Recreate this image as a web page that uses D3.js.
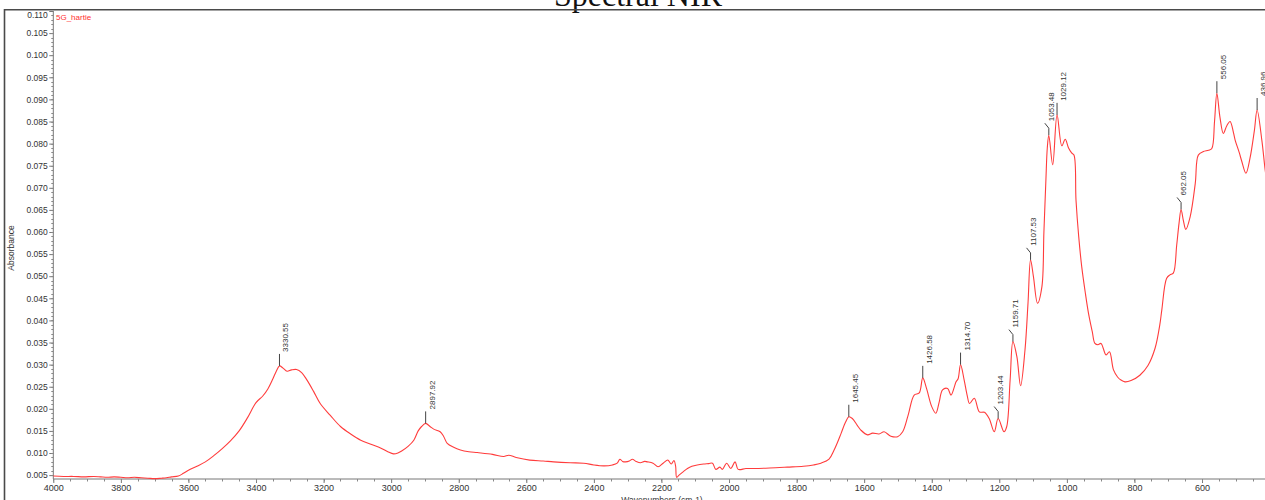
<!DOCTYPE html>
<html>
<head>
<meta charset="utf-8">
<script src="https://cdn.jsdelivr.net/npm/d3@7"></script>
<style>
  body { margin: 0; background: #fff; overflow: hidden; }
  svg { display: block; }
</style>
</head>
<body>
<svg id="fig_spectrum" width="1265" height="500"></svg>
<script>

// spectrum (wavenumber cm-1, absorbance)
var wavenumbers = [4000, 3970, 3940, 3910, 3880, 3860, 3840, 3820, 3800, 3780, 3760, 3740, 3720, 3700, 3680, 3665, 3650, 3630, 3615, 3600,
    3575, 3550, 3525, 3500, 3475, 3450, 3425, 3400, 3380, 3365, 3350, 3340, 3330.55, 3320, 3308, 3295, 3280, 3265, 3250, 3230,
    3210, 3180, 3150, 3120, 3090, 3060, 3030, 3010, 2993, 2980, 2970, 2950, 2933, 2920, 2910, 2897.92, 2885, 2874, 2855, 2845,
    2834, 2815, 2795, 2770, 2745, 2700, 2667, 2652, 2630, 2590, 2550, 2519, 2470, 2430, 2400, 2370, 2345, 2331, 2323, 2315,
    2306, 2295, 2286, 2275, 2262, 2250, 2242, 2225, 2210, 2195, 2181, 2171, 2163, 2158, 2155, 2148, 2135, 2123, 2110, 2094,
    2075, 2060, 2049, 2039, 2027, 2020, 2007, 1995, 1982, 1973, 1950, 1926, 1880, 1827, 1780, 1750, 1728, 1704, 1690, 1680,
    1668, 1655, 1645.45, 1635, 1620, 1610, 1590, 1575, 1556, 1541, 1521, 1501, 1486, 1470, 1452, 1437, 1426.58, 1415, 1400, 1388,
    1378, 1368, 1353, 1343, 1328, 1322, 1314.70, 1304, 1295, 1288, 1274, 1259, 1244, 1230, 1215, 1203.44, 1186, 1178, 1168, 1159.71,
    1148, 1137, 1124, 1115, 1107.53, 1099, 1087, 1074, 1068, 1062, 1058, 1053.48, 1042, 1029.12, 1015, 1005, 995, 986, 979, 973,
    965, 956, 945, 936, 925, 917, 908, 899, 884, 874, 862, 850, 840, 828, 810, 784, 760, 739, 725, 719,
    705, 695, 685, 675, 668, 662.05, 655, 648, 635, 620, 611, 596, 581, 571, 563, 556.05, 547, 537, 527, 517,
    507, 502, 490, 482, 470, 458, 445, 436.96, 423, 413, 405];

var absorbance = [0.0048, 0.0047, 0.0047, 0.0046, 0.0047, 0.0046, 0.0045, 0.0046, 0.0045, 0.0044, 0.0045, 0.0044, 0.0043, 0.0042, 0.0043, 0.0044, 0.0046, 0.0048, 0.0054, 0.0061,
    0.0070, 0.0080, 0.0094, 0.0110, 0.0128, 0.0150, 0.0180, 0.0214, 0.0229, 0.0245, 0.0268, 0.0285, 0.0297, 0.0292, 0.0285, 0.0288, 0.0289, 0.0282, 0.0266, 0.0240,
    0.0212, 0.0185, 0.0160, 0.0143, 0.0129, 0.0120, 0.0111, 0.0103, 0.0098, 0.0100, 0.0104, 0.0115, 0.0129, 0.0150, 0.0160, 0.0167, 0.0160, 0.0154, 0.0148, 0.0138,
    0.0122, 0.0113, 0.0107, 0.0103, 0.0101, 0.0097, 0.0092, 0.0095, 0.0090, 0.0084, 0.0082, 0.0080, 0.0078, 0.0077, 0.0073, 0.0071, 0.0073, 0.0077, 0.0086, 0.0081,
    0.0080, 0.0082, 0.0086, 0.0081, 0.0078, 0.0081, 0.0080, 0.0077, 0.0069, 0.0077, 0.0084, 0.0075, 0.0083, 0.0070, 0.0045, 0.0050, 0.0058, 0.0065, 0.0070, 0.0073,
    0.0075, 0.0076, 0.0077, 0.0063, 0.0068, 0.0063, 0.0077, 0.0065, 0.0080, 0.0063, 0.0065, 0.0065, 0.0066, 0.0068, 0.0070, 0.0073, 0.0077, 0.0086, 0.0105, 0.0122,
    0.0145, 0.0170, 0.0182, 0.0178, 0.0162, 0.0152, 0.0141, 0.0145, 0.0143, 0.0148, 0.0138, 0.0137, 0.0148, 0.0185, 0.0231, 0.0236, 0.0270, 0.0245, 0.0205, 0.0190,
    0.0215, 0.0243, 0.0246, 0.0231, 0.0261, 0.0268, 0.0300, 0.0265, 0.0230, 0.0212, 0.0224, 0.0193, 0.0192, 0.0178, 0.0148, 0.0178, 0.0148, 0.0160, 0.0265, 0.0352,
    0.0318, 0.0252, 0.0333, 0.0440, 0.0537, 0.0499, 0.0439, 0.0476, 0.0600, 0.0720, 0.0790, 0.0819, 0.0752, 0.0865, 0.0795, 0.0810, 0.0790, 0.0779, 0.0774, 0.0672,
    0.0590, 0.0521, 0.0460, 0.0416, 0.0375, 0.0348, 0.0345, 0.0348, 0.0322, 0.0329, 0.0288, 0.0272, 0.0265, 0.0261, 0.0264, 0.0276, 0.0298, 0.0337, 0.0390, 0.0424,
    0.0495, 0.0503, 0.0507, 0.0570, 0.0620, 0.0651, 0.0625, 0.0606, 0.0635, 0.0710, 0.0774, 0.0782, 0.0785, 0.0789, 0.0850, 0.0914, 0.0860, 0.0823, 0.0840, 0.0850,
    0.0825, 0.0808, 0.0780, 0.0759, 0.0733, 0.0767, 0.0830, 0.0876, 0.0808, 0.0740, 0.0700];

// labelled peaks; kink = the leader bends left before the text
var peak_labels = ['3330.55', '2897.92', '1645.45', '1426.58', '1314.70', '1203.44', '1159.71', '1107.53', '1053.48', '1029.12', '662.05', '556.05', '436.96'];
var peak_kink = [0, 0, 0, 0, 0, 1, 1, 1, 1, 0, 1, 0, 0];

var y_ticks = d3.range(0.005, 0.1101, 0.005);
var x_ticks = d3.range(4000, 599, -200);

function load_spectrum_fig(){

    var svg = d3.select("#fig_spectrum");
    svg.selectAll("*").remove();

    var x = d3.scaleLinear().domain([4000, 400]).range([53.3, 1269.6]);
    var y = d3.scaleLinear().domain([0.00412, 0.110]).range([479, 11]);

    var data = wavenumbers.map(function(w, i){ return [w, absorbance[i]]; });

    // title, mostly cut off by the top of the window
    svg.append("text")
        .attr("x", 638).attr("y", 6)
        .attr("text-anchor", "middle")
        .attr("font-family", "Liberation Serif, Times New Roman, serif")
        .style("font-size", "32px")
        .style("fill", "#111")
        .text("Spectral NIR");

    // frame
    svg.append("path")
        .attr("d", "M4.5,520 V9.8 H1300")
        .style("fill", "none")
        .style("stroke", "#4a4a4a")
        .style("stroke-width", 1.6);

    // y axis
    var y_axis = svg.append("g")
        .attr("transform", "translate(53.3,0)")
        .call(d3.axisLeft(y).tickValues(y_ticks).tickSize(4).tickFormat(d3.format(".3f")));
    y_axis.selectAll("text")
        .attr("font-family", "Liberation Sans, Arial, sans-serif")
        .style("font-size", "8.5px")
        .style("fill", "#333")
        .attr("x", -5.5);
    y_axis.selectAll("text").filter(function(d){ return d > 0.1095; }).attr("dy", "0.82em");
    y_axis.select(".domain").attr("d", "M0,479 V11").style("stroke", "#777");
    y_axis.selectAll("line").style("stroke", "#777");

    svg.append("g")
        .attr("transform", "translate(53.3,0)")
        .selectAll("line")
        .data(d3.range(0.005, 0.110, 0.001))
        .enter().append("line")
        .attr("x1", -2).attr("x2", 0)
        .attr("y1", function(d){ return Math.round(y(d)) + 0.5; })
        .attr("y2", function(d){ return Math.round(y(d)) + 0.5; })
        .style("stroke", "#888");

    // x axis
    var x_axis = svg.append("g")
        .attr("transform", "translate(0,479)")
        .call(d3.axisBottom(x).tickValues(x_ticks).tickSize(4).tickFormat(d3.format("d")));
    x_axis.selectAll("text")
        .attr("font-family", "Liberation Sans, Arial, sans-serif")
        .style("font-size", "9px")
        .style("fill", "#333")
        .attr("y", 6);
    x_axis.select(".domain").attr("d", "M53.3,0 H1269.6").style("stroke", "#777");
    x_axis.selectAll("line").style("stroke", "#777");

    svg.append("g")
        .attr("transform", "translate(0,479)")
        .selectAll("line")
        .data(d3.range(4000, 399, -50))
        .enter().append("line")
        .attr("x1", function(d){ return Math.round(x(d)) + 0.5; })
        .attr("x2", function(d){ return Math.round(x(d)) + 0.5; })
        .attr("y1", 0).attr("y2", function(d){ return d === 400 ? 4 : 2.5; })
        .style("stroke", "#888");

    // axis titles
    svg.append("text")
        .attr("font-family", "Liberation Sans, Arial, sans-serif")
        .style("font-size", "8.5px")
        .style("fill", "#333")
        .attr("text-anchor", "middle")
        .attr("transform", "translate(14,248) rotate(-90)")
        .text("Absorbance");

    svg.append("text")
        .attr("font-family", "Liberation Sans, Arial, sans-serif")
        .style("font-size", "8.5px")
        .style("fill", "#333")
        .attr("text-anchor", "middle")
        .attr("x", 662).attr("y", 503)
        .text("Wavenumbers (cm-1)");

    // spectrum
    var line = d3.line()
        .curve(d3.curveCatmullRom.alpha(0.5))
        .x(function(d){ return x(d[0]); })
        .y(function(d){ return y(d[1]); });

    svg.append("path")
        .datum(data)
        .attr("d", line)
        .style("fill", "none")
        .style("stroke", "#ff3c3c")
        .style("stroke-width", 1.1);

    svg.append("text")
        .attr("x", 56).attr("y", 19.5)
        .attr("font-family", "Liberation Sans, Arial, sans-serif")
        .style("font-size", "8px")
        .style("fill", "#ff3030")
        .text("5G_hartie");

    // peak markers
    var peak_group = svg.append("g");
    peak_labels.forEach(function(lbl, i){
        var w = +lbl;
        var k = wavenumbers.indexOf(w);
        var px = x(w), py = y(absorbance[k]);
        var tx = px, ty = py - 12, d;
        if( peak_kink[i] ){
            tx = px - 4; ty = py - 12;
            d = "M" + px + "," + py + " V" + (py - 7) + " L" + tx + "," + ty;
        } else {
            d = "M" + px + "," + py + " V" + ty;
        }
        peak_group.append("path")
            .attr("d", d)
            .style("fill", "none")
            .style("stroke", "#444")
            .style("stroke-width", 1);

        peak_group.append("text")
            .attr("font-family", "Liberation Sans, Arial, sans-serif")
            .style("font-size", "8px")
            .style("fill", "#333")
            .attr("text-anchor", "start")
            .attr("transform", "translate(" + (tx + 9) + "," + (ty - 2) + ") rotate(-90)")
            .text(lbl);
    });
}

load_spectrum_fig();
</script>
</body>
</html>
